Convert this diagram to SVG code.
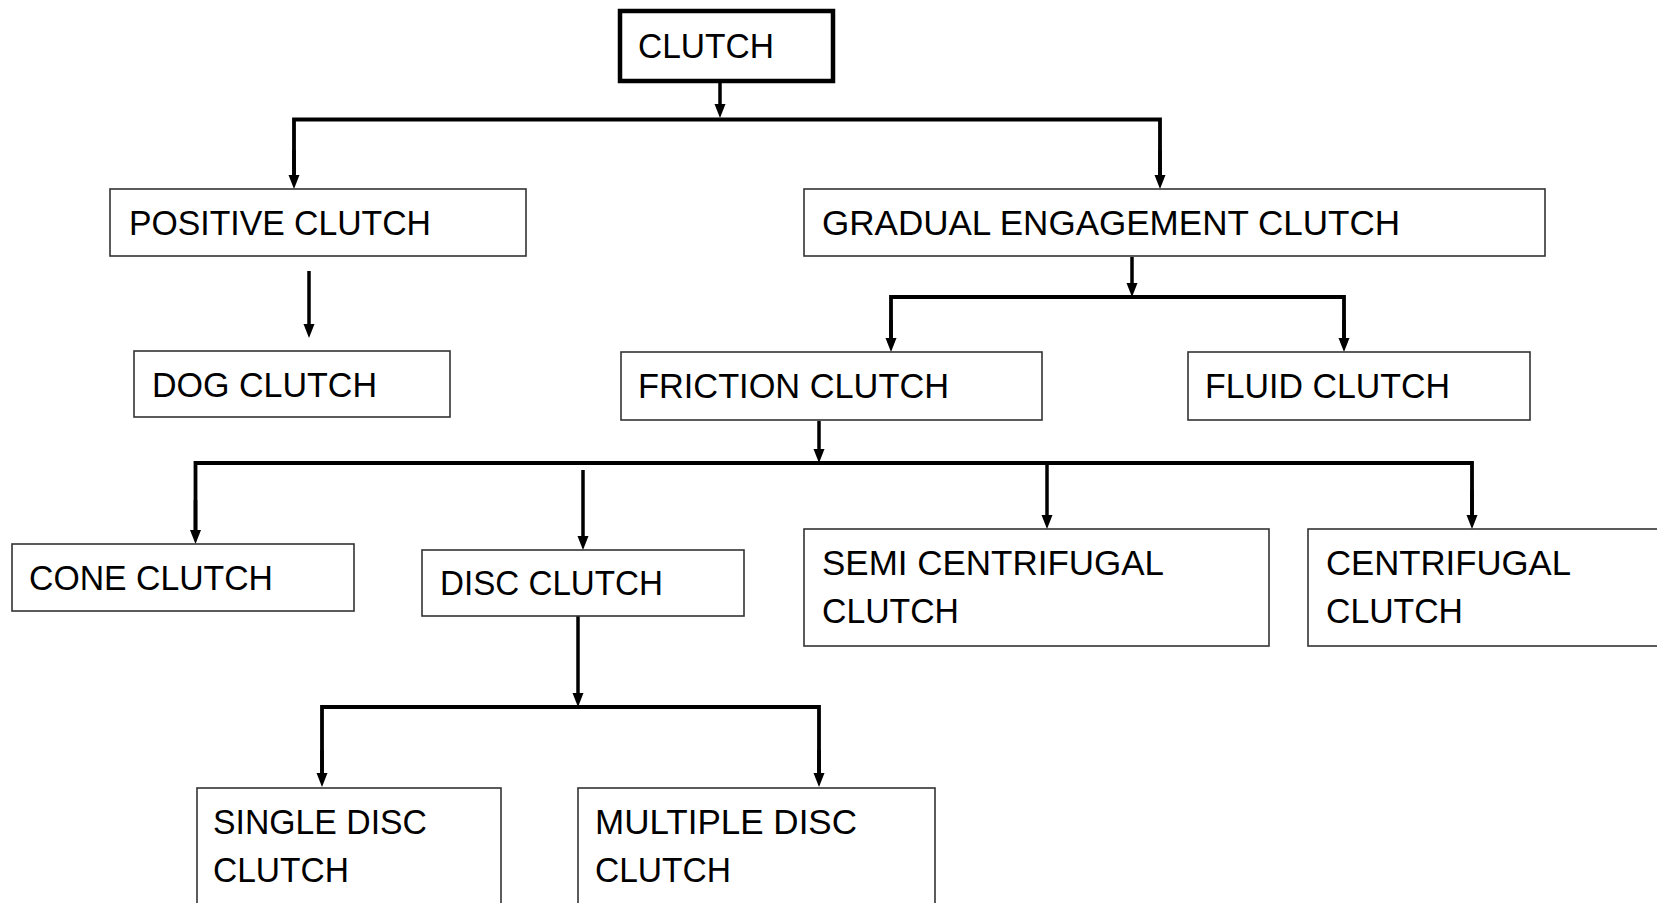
<svg xmlns="http://www.w3.org/2000/svg" width="1657" height="903" viewBox="0 0 1657 903">
<defs>
<marker id="ah" markerUnits="userSpaceOnUse" markerWidth="14" markerHeight="12" refX="6" refY="6" orient="auto">
<path d="M0,0.5 L14,6 L0,11.5 z" fill="#000"/>
</marker>
<style>
.box{fill:#fff;stroke:#333;stroke-width:1.6}
.root{fill:#fff;stroke:#000;stroke-width:4.5}
.t{font-family:"Liberation Sans",Arial,sans-serif;font-size:35px;fill:#000}
.c{fill:none;stroke:#000;stroke-width:3.8}
.a{fill:none;stroke:#000;stroke-width:3.5;marker-end:url(#ah)}
</style>
</defs>
<rect width="1657" height="903" fill="#fff"/>
<g id="connectors">
<line class="a" x1="720" y1="82" x2="720" y2="110"/>
<polyline class="c" points="294,181 294,119.5 1160,119.5 1160,181"/>
<line class="a" x1="294" y1="150" x2="294" y2="181"/>
<line class="a" x1="1160" y1="150" x2="1160" y2="181"/>
<line class="a" x1="309" y1="271" x2="309" y2="330"/>
<line class="a" x1="1132" y1="257" x2="1132" y2="289"/>
<polyline class="c" points="891,344 891,297 1344,297 1344,344"/>
<line class="a" x1="891" y1="320" x2="891" y2="344"/>
<line class="a" x1="1344" y1="320" x2="1344" y2="344"/>
<line class="a" x1="819" y1="421" x2="819" y2="455"/>
<polyline class="c" points="195.5,536 195.5,463 1472,463 1472,521"/>
<line class="a" x1="195.5" y1="500" x2="195.5" y2="536"/>
<line class="a" x1="583" y1="470" x2="583" y2="542"/>
<line class="a" x1="1047" y1="463" x2="1047" y2="521"/>
<line class="a" x1="1472" y1="490" x2="1472" y2="521"/>
<line class="a" x1="578" y1="613" x2="578" y2="699"/>
<polyline class="c" points="322,779 322,707 819,707 819,779"/>
<line class="a" x1="322" y1="750" x2="322" y2="779"/>
<line class="a" x1="819" y1="750" x2="819" y2="779"/>
</g>
<g id="clutch">
<rect class="root" x="620" y="11" width="213" height="70"/>
<text class="t" x="638" y="58" textLength="136" lengthAdjust="spacingAndGlyphs">CLUTCH</text>
</g>
<g id="positive">
<rect class="box" x="110" y="189" width="416" height="67"/>
<text class="t" x="129" y="235" textLength="302" lengthAdjust="spacingAndGlyphs">POSITIVE CLUTCH</text>
</g>
<g id="gradual">
<rect class="box" x="804" y="189" width="741" height="67"/>
<text class="t" x="822" y="235" textLength="578" lengthAdjust="spacingAndGlyphs">GRADUAL ENGAGEMENT CLUTCH</text>
</g>
<g id="dog">
<rect class="box" x="134" y="351" width="316" height="66"/>
<text class="t" x="152" y="397" textLength="225" lengthAdjust="spacingAndGlyphs">DOG CLUTCH</text>
</g>
<g id="friction">
<rect class="box" x="621" y="352" width="421" height="68"/>
<text class="t" x="638" y="398" textLength="311" lengthAdjust="spacingAndGlyphs">FRICTION CLUTCH</text>
</g>
<g id="fluid">
<rect class="box" x="1188" y="352" width="342" height="68"/>
<text class="t" x="1205" y="398" textLength="245" lengthAdjust="spacingAndGlyphs">FLUID CLUTCH</text>
</g>
<g id="cone">
<rect class="box" x="12" y="544" width="342" height="67"/>
<text class="t" x="29" y="590" textLength="244" lengthAdjust="spacingAndGlyphs">CONE CLUTCH</text>
</g>
<g id="disc">
<rect class="box" x="422" y="550" width="322" height="66"/>
<text class="t" x="440" y="595" textLength="223" lengthAdjust="spacingAndGlyphs">DISC CLUTCH</text>
</g>
<g id="semi">
<rect class="box" x="804" y="529" width="465" height="117"/>
<text class="t" x="822" y="575" textLength="342" lengthAdjust="spacingAndGlyphs">SEMI CENTRIFUGAL</text>
<text class="t" x="822" y="623" textLength="137" lengthAdjust="spacingAndGlyphs">CLUTCH</text>
</g>
<g id="centrifugal">
<rect class="box" x="1308" y="529" width="360" height="117"/>
<text class="t" x="1326" y="575" textLength="245" lengthAdjust="spacingAndGlyphs">CENTRIFUGAL</text>
<text class="t" x="1326" y="623" textLength="137" lengthAdjust="spacingAndGlyphs">CLUTCH</text>
</g>
<g id="single">
<rect class="box" x="197" y="788" width="304" height="130"/>
<text class="t" x="213" y="834" textLength="214" lengthAdjust="spacingAndGlyphs">SINGLE DISC</text>
<text class="t" x="213" y="882" textLength="136" lengthAdjust="spacingAndGlyphs">CLUTCH</text>
</g>
<g id="multiple">
<rect class="box" x="578" y="788" width="357" height="130"/>
<text class="t" x="595" y="834" textLength="262" lengthAdjust="spacingAndGlyphs">MULTIPLE DISC</text>
<text class="t" x="595" y="882" textLength="136" lengthAdjust="spacingAndGlyphs">CLUTCH</text>
</g>
</svg>
